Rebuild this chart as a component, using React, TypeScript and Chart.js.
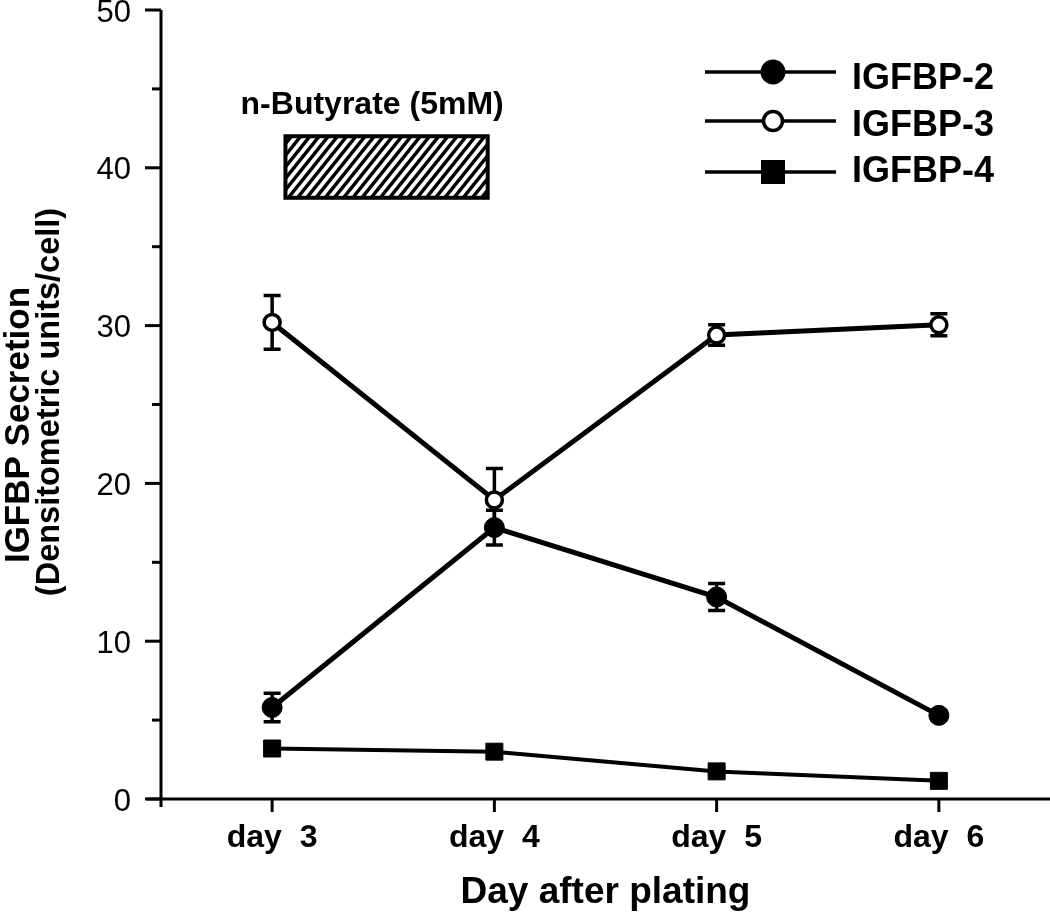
import React, { useEffect, useRef } from "react";
import { Chart, registerables } from "chart.js";

Chart.register(...registerables);

// ---- data ----
const days = [3, 4, 5, 6];
const dayLabels = ["day  3", "day  4", "day  5", "day  6"];
const seriesNames = ["IGFBP-2", "IGFBP-3", "IGFBP-4"];
const igfbp2 = [5.8, 17.2, 12.8, 5.3];
const igfbp2Err = [0.9, 1.1, 0.85, 0.3];
const igfbp3 = [30.2, 18.95, 29.4, 30.05];
const igfbp3Err = [1.7, 2.0, 0.65, 0.7];
const igfbp4 = [3.2, 3.0, 1.75, 1.15];
const igfbp4Err = [0.2, 0.2, 0.2, 0.2];
const yTickValues = [0, 5, 10, 15, 20, 25, 30, 35, 40, 45, 50];
const yTickLabels = ["0", "", "10", "", "20", "", "30", "", "40", "", "50"];
const treatmentLabel = "n-Butyrate (5mM)";
const treatmentDays = [3.06, 3.97];
const treatmentLevels = [38.1, 42.0];
const yTitleLines = ["IGFBP Secretion", "(Densitometric units/cell)"];
const xTitle = "Day after plating";

const FONT = '"Liberation Sans", Arial, Helvetica, sans-serif';
const BLACK = "#000000";

const toPoints = (vals: number[]) => vals.map((v, i) => ({ x: days[i], y: v }));

const annotPlugin = {
  id: "annot",
  beforeDatasetsDraw(chart: any) {
    const ctx = chart.ctx;
    const xs = chart.scales.x;
    const ys = chart.scales.y;
    const sets = [
      [igfbp2, igfbp2Err],
      [igfbp3, igfbp3Err],
      [igfbp4, igfbp4Err],
    ];
    ctx.save();
    ctx.strokeStyle = BLACK;
    ctx.lineWidth = 3.5;
    ctx.lineCap = "butt";
    sets.forEach(([vals, errs]) => {
      vals.forEach((v, i) => {
        const x = xs.getPixelForValue(days[i]);
        const yt = ys.getPixelForValue(v + errs[i]);
        const yb = ys.getPixelForValue(v - errs[i]);
        ctx.beginPath();
        ctx.moveTo(x, yt);
        ctx.lineTo(x, yb);
        ctx.moveTo(x - 8.5, yt);
        ctx.lineTo(x + 8.5, yt);
        ctx.moveTo(x - 8.5, yb);
        ctx.lineTo(x + 8.5, yb);
        ctx.stroke();
      });
    });
    ctx.restore();
  },
  afterDraw(chart: any) {
    const ctx = chart.ctx;
    const xs = chart.scales.x;
    const ys = chart.scales.y;
    const area = chart.chartArea;
    ctx.save();
    ctx.strokeStyle = BLACK;
    ctx.fillStyle = BLACK;
    ctx.lineCap = "butt";

    // axes lines
    ctx.lineWidth = 3;
    ctx.beginPath();
    ctx.moveTo(area.left, area.top);
    ctx.lineTo(area.left, area.bottom + 8);
    ctx.moveTo(area.left - 14, area.bottom);
    ctx.lineTo(chart.width, area.bottom);
    ctx.stroke();

    // y ticks
    yTickValues.forEach((v, i) => {
      const y = ys.getPixelForValue(v);
      const len = yTickLabels[i] !== "" ? 16 : 9;
      ctx.beginPath();
      ctx.moveTo(area.left - len, y);
      ctx.lineTo(area.left, y);
      ctx.stroke();
    });
    // x ticks
    days.forEach((d) => {
      const x = xs.getPixelForValue(d);
      ctx.beginPath();
      ctx.moveTo(x, area.bottom);
      ctx.lineTo(x, area.bottom + 13);
      ctx.stroke();
    });

    // hatched treatment box
    const bx1 = xs.getPixelForValue(treatmentDays[0]);
    const bx2 = xs.getPixelForValue(treatmentDays[1]);
    const by1 = ys.getPixelForValue(treatmentLevels[1]);
    const by2 = ys.getPixelForValue(treatmentLevels[0]);
    const h = by2 - by1;
    ctx.save();
    ctx.beginPath();
    ctx.rect(bx1, by1, bx2 - bx1, h);
    ctx.fillStyle = "#ffffff";
    ctx.fill();
    ctx.clip();
    ctx.lineWidth = 3.5;
    ctx.beginPath();
    for (let x0 = bx1 - h; x0 < bx2 + 10; x0 += 9.2) {
      ctx.moveTo(x0, by2);
      ctx.lineTo(x0 + h * 0.8, by1);
    }
    ctx.stroke();
    ctx.restore();
    ctx.lineWidth = 4;
    ctx.strokeRect(bx1, by1, bx2 - bx1, h);

    // treatment label
    ctx.font = `bold 32px ${FONT}`;
    ctx.textAlign = "center";
    ctx.textBaseline = "alphabetic";
    ctx.fillText(treatmentLabel, xs.getPixelForValue(3.45), 114);

    // legend
    const rows = [72, 121, 172];
    const baselines = [89, 136, 182];
    rows.forEach((ry, i) => {
      ctx.lineWidth = 3.5;
      ctx.beginPath();
      ctx.moveTo(705, ry);
      ctx.lineTo(836, ry);
      ctx.stroke();
      const mx = 773;
      if (i === 0) {
        ctx.beginPath();
        ctx.arc(mx, ry, 12.5, 0, Math.PI * 2);
        ctx.fill();
      } else if (i === 1) {
        ctx.beginPath();
        ctx.arc(mx, ry, 9.5, 0, Math.PI * 2);
        ctx.fillStyle = "#ffffff";
        ctx.fill();
        ctx.fillStyle = BLACK;
        ctx.lineWidth = 3.5;
        ctx.stroke();
      } else {
        ctx.fillRect(mx - 12, ry - 12, 24, 24);
      }
      ctx.font = `bold 36px ${FONT}`;
      ctx.textAlign = "left";
      ctx.textBaseline = "alphabetic";
      ctx.fillText(seriesNames[i], 852, baselines[i]);
    });

    // x title
    ctx.font = `bold 37px ${FONT}`;
    ctx.textAlign = "center";
    ctx.fillText(xTitle, (area.left + area.right) / 2, 903);

    // y title
    ctx.textBaseline = "middle";
    const titlePos = [
      [19, 425, 35],
      [50, 402, 32.5],
    ];
    titlePos.forEach(([lx, ly, fs], i) => {
      ctx.save();
      ctx.font = `bold ${fs}px ${FONT}`;
      ctx.translate(lx, ly);
      ctx.rotate(-Math.PI / 2);
      ctx.fillText(yTitleLines[i], 0, 0);
      ctx.restore();
    });

    ctx.restore();
  },
};

export default function App() {
  const ref = useRef<HTMLCanvasElement | null>(null);
  useEffect(() => {
    if (!ref.current) return;
    const chart = new Chart(ref.current, {
      type: "line",
      data: {
        datasets: [
          {
            label: seriesNames[0],
            data: toPoints(igfbp2),
            borderColor: BLACK,
            backgroundColor: BLACK,
            borderWidth: 5,
            pointStyle: "circle",
            pointRadius: 10,
            pointBorderWidth: 1,
            pointBackgroundColor: BLACK,
            pointBorderColor: BLACK,
            tension: 0,
          },
          {
            label: seriesNames[1],
            data: toPoints(igfbp3),
            borderColor: BLACK,
            backgroundColor: "#ffffff",
            borderWidth: 5,
            pointStyle: "circle",
            pointRadius: 8,
            pointBorderWidth: 3.5,
            pointBackgroundColor: "#ffffff",
            pointBorderColor: BLACK,
            tension: 0,
          },
          {
            label: seriesNames[2],
            data: toPoints(igfbp4),
            borderColor: BLACK,
            backgroundColor: BLACK,
            borderWidth: 4,
            pointStyle: "rect",
            pointRadius: 12,
            pointBorderWidth: 1,
            pointBackgroundColor: BLACK,
            pointBorderColor: BLACK,
            tension: 0,
          },
        ],
      },
      options: {
        animation: false,
        responsive: false,
        devicePixelRatio: 1,
        layout: { padding: { top: 10, right: 0, left: 0, bottom: 0 }, autoPadding: false },
        plugins: {
          legend: { display: false },
          tooltip: { enabled: false },
          title: { display: false },
        },
        scales: {
          x: {
            type: "linear",
            min: 2.5,
            max: 6.5,
            afterBuildTicks: (s: any) => {
              s.ticks = days.map((d) => ({ value: d }));
            },
            afterFit: (s: any) => {
              s.height = 119;
              s.paddingLeft = 0;
              s.paddingRight = 0;
            },
            grid: { display: false, drawTicks: false },
            border: { display: false },
            ticks: {
              padding: 20,
              color: BLACK,
              font: { family: FONT, size: 32, weight: "bold" },
              callback: (v: any) => {
                const i = days.indexOf(Number(v));
                return i >= 0 ? dayLabels[i] : "";
              },
              maxRotation: 0,
              autoSkip: false,
            },
          },
          y: {
            type: "linear",
            min: 0,
            max: 50,
            afterBuildTicks: (s: any) => {
              s.ticks = yTickValues.map((v) => ({ value: v }));
            },
            afterFit: (s: any) => {
              s.width = 161;
              s.paddingTop = 0;
              s.paddingBottom = 0;
            },
            grid: { display: false, drawTicks: false },
            border: { display: false },
            ticks: {
              padding: 30,
              labelOffset: 3,
              color: BLACK,
              font: { family: FONT, size: 31 },
              callback: (v: any) => {
                const i = yTickValues.indexOf(Number(v));
                return i >= 0 ? yTickLabels[i] : "";
              },
              autoSkip: false,
            },
          },
        },
      },
      plugins: [annotPlugin],
    } as any);
    return () => chart.destroy();
  }, []);
  return (
    <div style={{ position: "absolute", left: 0, top: 0, width: 1050, height: 918, background: "#fff" }}>
      <canvas ref={ref} width={1050} height={918} style={{ width: 1050, height: 918, display: "block" }} />
    </div>
  );
}
